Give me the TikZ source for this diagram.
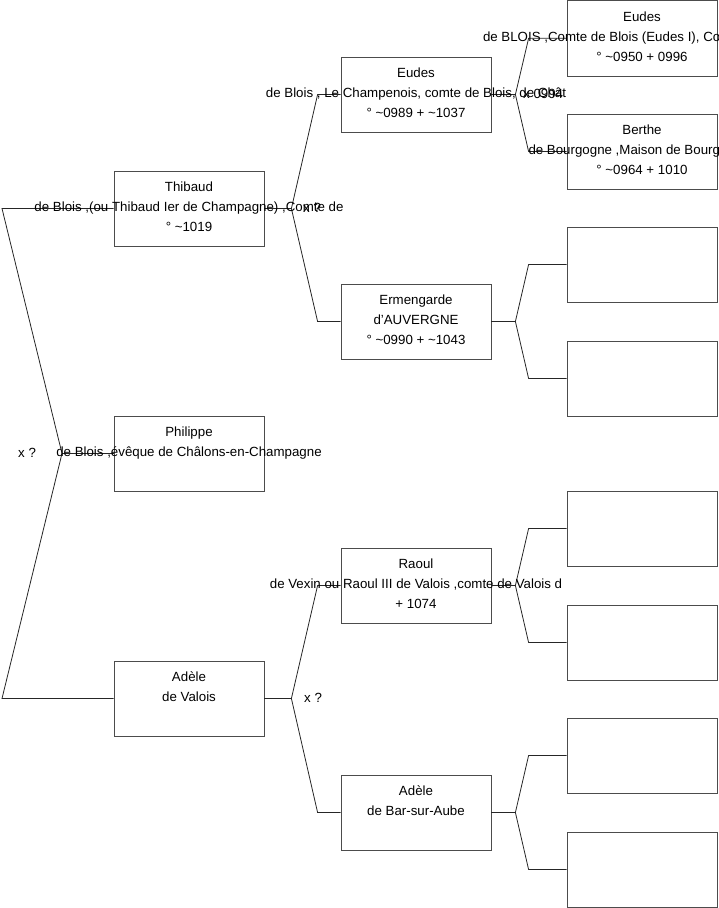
\documentclass[tikz,border=0pt]{standalone}
\usepackage{fontspec}
\setmainfont{Liberation Sans}
\usetikzlibrary{calc}

\tikzset{
  person/.style={draw=black!70, line width=0.8pt, minimum width=150pt, minimum height=75pt, inner sep=0pt},
  pname/.style={anchor=north, align=center, inner sep=0pt, font=\fontsize{13.3}{20}\selectfont},
  link/.style={draw=black!85, line width=0.8pt},
  mariage/.style={anchor=base west, inner sep=0pt, font=\fontsize{13.3}{20}\selectfont}
}

\begin{document}
\begin{tikzpicture}[x=1pt,y=-1pt]
\clip (0,0) rectangle (719,908);
\node[person] (thibaud) at (189,208.5) {};
\node[person] (philippe) at (189,453.5) {};
\node[person] (adele) at (189,698.5) {};
\node[person] (eudes) at (416,94.5) {};
\node[person] (ermengarde) at (416,321.5) {};
\node[person] (raoul) at (416,585.5) {};
\node[person] (adelebar) at (416,812.5) {};
\node[person, minimum height=75.5pt] (eudesI) at (642,38.3) {};
\node[person] (berthe) at (642,151.5) {};
\node[person] (erm-f) at (642,264.5) {};
\node[person] (erm-m) at (642,378.5) {};
\node[person] (raoul-f) at (642,528.5) {};
\node[person] (raoul-m) at (642,642.5) {};
\node[person] (adelebar-f) at (642,755.5) {};
\node[person] (adelebar-m) at (642,869.5) {};

\coordinate (root) at (2,453.5);
\coordinate (v0) at (62,453.5);
\draw[link] (thibaud.west) -- (thibaud.west -| root) -- (v0) -- (adele.west -| root) -- (adele.west);
\draw[link] (v0) -- (philippe.west);
\foreach \k/\p/\m in {thibaud/eudes/ermengarde, adele/raoul/adelebar}{
  \draw[link] (\k.east) -- ++(27,0) coordinate (v-\k);
  \draw[link] (\p.west) -- ++(-23,0) -- (v-\k) -- ($(\m.west)+(-23,0)$) -- (\m.west);
}
\foreach \k/\p/\m in {eudes/eudesI/berthe, ermengarde/erm-f/erm-m, raoul/raoul-f/raoul-m, adelebar/adelebar-f/adelebar-m}{
  \draw[link] (\k.east) -- ++(24,0) coordinate (v-\k);
  \draw[link] (\p.west) -- ++(-38,0) -- (v-\k) -- ($(\m.west)+(-38,0)$) -- (\m.west);
}

\node[pname] (thibaud-t) at ([yshift=-7pt]thibaud.north) {\strut Thibaud\\de Blois ,(ou Thibaud Ier de Champagne) ,Comte de\\° \textasciitilde{}1019};
\node[pname] (philippe-t) at ([yshift=-7pt]philippe.north) {\strut Philippe\\de Blois ,évêque de Châlons-en-Champagne};
\node[pname] (adele-t) at ([yshift=-7pt]adele.north) {\strut Adèle\\de Valois};
\node[pname] (eudes-t) at ([yshift=-7pt]eudes.north) {\strut Eudes\\de Blois , Le Champenois, comte de Blois, de Chât\\° \textasciitilde{}0989 + \textasciitilde{}1037};
\node[pname] (ermengarde-t) at ([yshift=-7pt]ermengarde.north) {\strut Ermengarde\\d'AUVERGNE\\° \textasciitilde{}0990 + \textasciitilde{}1043};
\node[pname] (raoul-t) at ([yshift=-7pt]raoul.north) {\strut Raoul\\de Vexin ou Raoul III de Valois ,comte de Valois d\\+ 1074};
\node[pname] (adelebar-t) at ([yshift=-7pt]adelebar.north) {\strut Adèle\\de Bar-sur-Aube};
\node[pname] (eudesI-t) at ([yshift=-7pt]eudesI.north) {\strut Eudes\\\makebox[318pt][l]{de BLOIS ,Comte de Blois (Eudes I), Co}\\° \textasciitilde{}0950 + 0996};
\node[pname] (berthe-t) at ([yshift=-7pt]berthe.north) {\strut Berthe\\\makebox[227pt][l]{de Bourgogne ,Maison de Bourg}\\° \textasciitilde{}0964 + 1010};

\node[mariage] (x0) at (18,457.5) {x ?};
\node[mariage] (x1) at (303,212.5) {x ?};
\node[mariage] (x2) at (304,702.5) {x ?};
\node[mariage] (x3) at (523,98.5) {x 0994};
\end{tikzpicture}
\end{document}
